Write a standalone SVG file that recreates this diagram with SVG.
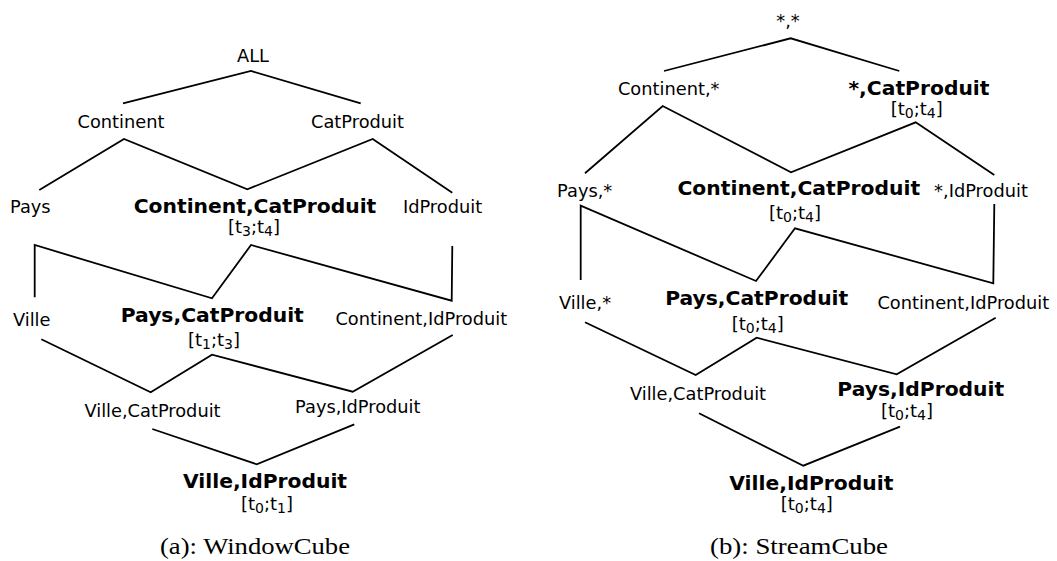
<svg xmlns="http://www.w3.org/2000/svg" width="1057" height="561" viewBox="0 0 1057 561">
  <style>
    .lbl { font-family: "DejaVu Sans", "Liberation Sans", sans-serif; font-size: 17.8px; fill: #000; text-anchor: middle; }
    .key { font-family: "DejaVu Sans", "Liberation Sans", sans-serif; font-size: 20.3px; font-weight: bold; fill: #000; text-anchor: middle; }
    .iv { font-family: "DejaVu Sans", "Liberation Sans", sans-serif; font-size: 18px; fill: #000; text-anchor: middle; }
    .sub { font-size: 14px; }
    .cap { font-family: "Liberation Serif", "Times New Roman", serif; font-size: 23px; fill: #000; text-anchor: middle; }
    .edge { fill: none; stroke: #000; stroke-width: 1.8; stroke-linejoin: miter; }
  </style>

  <!-- (a) WindowCube lattice -->
  <g id="connectors-a">
    <polyline class="edge" points="123,103.3 251,71 360.7,103.3"/>
    <polyline class="edge" points="39.3,190 124,139 247.3,189.3 372.7,139 452.3,192.7"/>
    <polyline class="edge" points="34.7,297.3 34.7,245 212,298.3 251,245 451.7,300.7 452.3,246"/>
    <polyline class="edge" points="41.3,339.3 150.7,392.3 212,354.7 352.7,391.7 452.7,335"/>
    <polyline class="edge" points="152.3,429 256.7,464.3 354.3,424.3"/>
  </g>
  <g id="a-all"><text class="lbl" x="253" y="62">ALL</text></g>
  <g id="a-continent"><text class="lbl" x="121" y="128">Continent</text></g>
  <g id="a-catproduit"><text class="lbl" x="357.5" y="128">CatProduit</text></g>
  <g id="a-pays"><text class="lbl" x="30.3" y="213">Pays</text></g>
  <g id="a-continent-catproduit">
    <text class="key" x="255" y="213">Continent,CatProduit</text>
    <text class="iv" x="254" y="233">[t<tspan class="sub" dy="3">3</tspan><tspan dy="-3">;t</tspan><tspan class="sub" dy="3">4</tspan><tspan dy="-3">]</tspan></text>
  </g>
  <g id="a-idproduit"><text class="lbl" x="442.5" y="213">IdProduit</text></g>
  <g id="a-ville"><text class="lbl" x="31.7" y="325.5">Ville</text></g>
  <g id="a-pays-catproduit">
    <text class="key" x="212.3" y="321.7">Pays,CatProduit</text>
    <text class="iv" x="214" y="346">[t<tspan class="sub" dy="3">1</tspan><tspan dy="-3">;t</tspan><tspan class="sub" dy="3">3</tspan><tspan dy="-3">]</tspan></text>
  </g>
  <g id="a-continent-idproduit"><text class="lbl" x="421.3" y="325">Continent,IdProduit</text></g>
  <g id="a-ville-catproduit"><text class="lbl" x="152.5" y="416.7">Ville,CatProduit</text></g>
  <g id="a-pays-idproduit"><text class="lbl" x="357.8" y="412.5">Pays,IdProduit</text></g>
  <g id="a-ville-idproduit">
    <text class="key" x="265" y="488.3">Ville,IdProduit</text>
    <text class="iv" x="267" y="510">[t<tspan class="sub" dy="3">0</tspan><tspan dy="-3">;t</tspan><tspan class="sub" dy="3">1</tspan><tspan dy="-3">]</tspan></text>
  </g>
  <text class="cap" x="255" y="554" textLength="190" lengthAdjust="spacingAndGlyphs">(a): WindowCube</text>

  <!-- (b) StreamCube lattice -->
  <g id="connectors-b">
    <polyline class="edge" points="664,71 790.7,38.3 899.3,71"/>
    <polyline class="edge" points="585,173.3 662.7,106 791,172.3 915.7,122.3 994.3,175"/>
    <polyline class="edge" points="580.7,280 580.7,205.7 756,281 795,228.3 993.3,283.3 994.3,204"/>
    <polyline class="edge" points="585,322.3 695.7,375 756.7,337.7 896.7,374.3 995.7,317.7"/>
    <polyline class="edge" points="699,413.3 803.3,465.7 900,426.7"/>
  </g>
  <g id="b-star-star"><text class="lbl" x="788" y="27">*,*</text></g>
  <g id="b-continent-star"><text class="lbl" x="668.7" y="95">Continent,*</text></g>
  <g id="b-star-catproduit">
    <text class="key" x="919" y="95">*,CatProduit</text>
    <text class="iv" x="916.7" y="115">[t<tspan class="sub" dy="3">0</tspan><tspan dy="-3">;t</tspan><tspan class="sub" dy="3">4</tspan><tspan dy="-3">]</tspan></text>
  </g>
  <g id="b-pays-star"><text class="lbl" x="584.7" y="196.7">Pays,*</text></g>
  <g id="b-continent-catproduit">
    <text class="key" x="798.8" y="195">Continent,CatProduit</text>
    <text class="iv" x="795" y="219.3">[t<tspan class="sub" dy="3">0</tspan><tspan dy="-3">;t</tspan><tspan class="sub" dy="3">4</tspan><tspan dy="-3">]</tspan></text>
  </g>
  <g id="b-star-idproduit"><text class="lbl" x="981" y="196.7">*,IdProduit</text></g>
  <g id="b-ville-star"><text class="lbl" x="585" y="309.3">Ville,*</text></g>
  <g id="b-pays-catproduit">
    <text class="key" x="756.7" y="305">Pays,CatProduit</text>
    <text class="iv" x="757.7" y="330">[t<tspan class="sub" dy="3">0</tspan><tspan dy="-3">;t</tspan><tspan class="sub" dy="3">4</tspan><tspan dy="-3">]</tspan></text>
  </g>
  <g id="b-continent-idproduit"><text class="lbl" x="963.3" y="309.3">Continent,IdProduit</text></g>
  <g id="b-ville-catproduit"><text class="lbl" x="698" y="400">Ville,CatProduit</text></g>
  <g id="b-pays-idproduit">
    <text class="key" x="920.8" y="395.7">Pays,IdProduit</text>
    <text class="iv" x="907" y="416.7">[t<tspan class="sub" dy="3">0</tspan><tspan dy="-3">;t</tspan><tspan class="sub" dy="3">4</tspan><tspan dy="-3">]</tspan></text>
  </g>
  <g id="b-ville-idproduit">
    <text class="key" x="811.3" y="490">Ville,IdProduit</text>
    <text class="iv" x="806.8" y="510">[t<tspan class="sub" dy="3">0</tspan><tspan dy="-3">;t</tspan><tspan class="sub" dy="3">4</tspan><tspan dy="-3">]</tspan></text>
  </g>
  <text class="cap" x="799" y="554" textLength="178" lengthAdjust="spacingAndGlyphs">(b): StreamCube</text>
</svg>
